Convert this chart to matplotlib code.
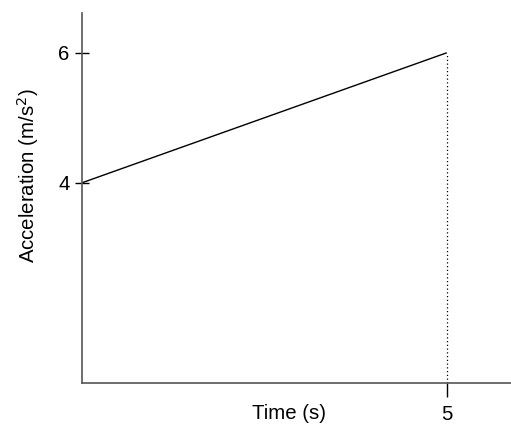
import matplotlib
matplotlib.use("Agg")
from matplotlib import pyplot as plt

# data
time_s = [0, 5]
accel = [4, 6]
x_ticks = [5]
y_ticks = [4, 6]

plt.rcParams["font.family"] = ["Liberation Sans", "DejaVu Sans"]
fs = 14.7

fig = plt.figure(figsize=(5.11, 4.37), dpi=100)
ax = fig.add_axes([0.1605, 0.1236, 0.8395, 0.8464])

ax.plot(time_s, accel, color="black", linewidth=1.0, solid_capstyle="butt")
ax.vlines(time_s[-1], 0.92, accel[-1], colors="black", linestyles=(0, (1, 2)), linewidth=0.9)

ax.set_xlim(0, 5.88)
ax.set_ylim(0.92, 6.61)

for s in ["top", "right"]:
    ax.spines[s].set_visible(False)
for s in ["left", "bottom"]:
    ax.spines[s].set_color("#555555")
    ax.spines[s].set_linewidth(1.2)

ax.set_xticks(x_ticks)
ax.set_yticks(y_ticks)
ax.tick_params(axis="y", direction="inout", length=10, width=1.0, labelsize=fs, pad=4, color="black")
ax.tick_params(axis="x", direction="out", length=10, width=1.0, labelsize=fs, pad=6, color="black")

ax.set_xlabel("Time (s)", fontsize=fs)
ax.xaxis.set_label_coords(0.483, -0.058)
ax.xaxis.label.set_verticalalignment("top")
ax.set_ylabel("Acceleration (m/s$^2$)", fontsize=fs)
ax.yaxis.set_label_coords(-0.095, 0.56)

fig.savefig("out.png", dpi=100)
